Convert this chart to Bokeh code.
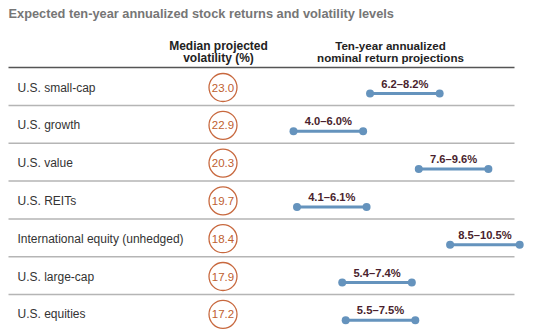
from bokeh.plotting import figure
from bokeh.models import Range1d, ColumnDataSource
from bokeh.core.properties import value
from bokeh.embed import file_html
from bokeh.resources import INLINE

# ---- data ----
categories = ["U.S. small-cap", "U.S. growth", "U.S. value", "U.S. REITs",
              "International equity (unhedged)", "U.S. large-cap", "U.S. equities"]
volatility = [23.0, 22.9, 20.3, 19.7, 18.4, 17.9, 17.2]
return_low = [6.2, 4.0, 7.6, 4.1, 8.5, 5.4, 5.5]
return_high = [8.2, 6.0, 9.6, 6.1, 10.5, 7.4, 7.5]

title_text = "Expected ten-year annualized stock returns and volatility levels"
header_vol = ["Median projected", "volatility (%)"]
header_ret = ["Ten-year annualized", "nominal return projections"]

# ---- layout (pixel -> data conversions) ----
W, H = 536, 330
SCALE = 34.8                  # px per percentage point
X0 = 4.0 - 293 / SCALE        # left edge in data units
X1 = X0 + W / SCALE
ROW_PX = 37.8
ROW0_PX = 87.0
Y_TOP = -ROW0_PX / ROW_PX
Y_BOT = (H - ROW0_PX) / ROW_PX


def X(px):
    return X0 + px / SCALE


def Y(py):
    return (py - ROW0_PX) / ROW_PX


FONT = value("Liberation Sans")

p = figure(width=W, height=H, output_backend="svg", toolbar_location=None,
           x_range=Range1d(X0, X1), y_range=Range1d(Y_BOT, Y_TOP),
           min_border=0, outline_line_color=None)
p.axis.visible = False
p.grid.visible = False
p.background_fill_color = "white"

n = len(categories)
rows = list(range(n))
labels = [f"{lo:.1f}\u2013{hi:.1f}%" for lo, hi in zip(return_low, return_high)]

src = ColumnDataSource(dict(
    cat=categories, vol=[f"{v:.1f}" for v in volatility], row=rows,
    lo=return_low, hi=return_high, mid=[(a + b) / 2 for a, b in zip(return_low, return_high)],
    lab=labels,
    line_y=[r + 6 / ROW_PX for r in rows],
    lab_y=[r - 4 / ROW_PX for r in rows],
    cat_x=[X(17)] * n, circ_x=[X(222.5)] * n,
))

# title
p.text(x=[X(8)], y=[Y(13)], text=[title_text], text_font=FONT, text_font_size="12.8px",
       text_font_style="bold", text_color="#767676", text_baseline="middle", text_align="left")

# headers
p.text(x=[X(218)] * 2, y=[Y(45), Y(57)], text=header_vol, text_font=FONT, text_font_size="12px",
       text_font_style="bold", text_color="#222222", text_baseline="middle", text_align="center")
p.text(x=[X(390)] * 2, y=[Y(45), Y(57)], text=header_ret, text_font=FONT, text_font_size="11.6px",
       text_font_style="bold", text_color="#222222", text_baseline="middle", text_align="center")

# rules
p.segment(x0=[X(8)], x1=[X(514)], y0=[Y(67)], y1=[Y(67)], line_color="#555555", line_width=1.5)
sep_y = [r + 18 / ROW_PX for r in rows[:-1]]
p.segment(x0=[X(8)] * len(sep_y), x1=[X(514)] * len(sep_y), y0=sep_y, y1=sep_y,
          line_color="#b5b5b5", line_width=1.5)

# category labels
p.text(x="cat_x", y="row", text="cat", source=src, text_font=FONT, text_font_size="12px",
       text_color="#333333", text_baseline="middle", text_align="left")

# volatility circles
p.scatter(x="circ_x", y="row", source=src, marker="circle", size=28, fill_color="white",
          line_color="#c8693f", line_width=1.3)
p.text(x="circ_x", y="row", text="vol", source=src, text_font=FONT, text_font_size="11.5px",
       text_color="#c0602f", text_baseline="middle", text_align="center")

# return ranges
p.segment(x0="lo", x1="hi", y0="line_y", y1="line_y", source=src, line_color="#6593bd",
          line_width=3)
p.scatter(x="lo", y="line_y", source=src, marker="circle", size=8, fill_color="#6593bd",
          line_color=None)
p.scatter(x="hi", y="line_y", source=src, marker="circle", size=8, fill_color="#6593bd",
          line_color=None)
p.text(x="mid", y="lab_y", text="lab", source=src, text_font=FONT, text_font_size="11.2px",
       text_font_style="bold", text_color="#4a1f2e", text_baseline="middle", text_align="center")

open("out.html", "w").write(file_html(p, INLINE))
